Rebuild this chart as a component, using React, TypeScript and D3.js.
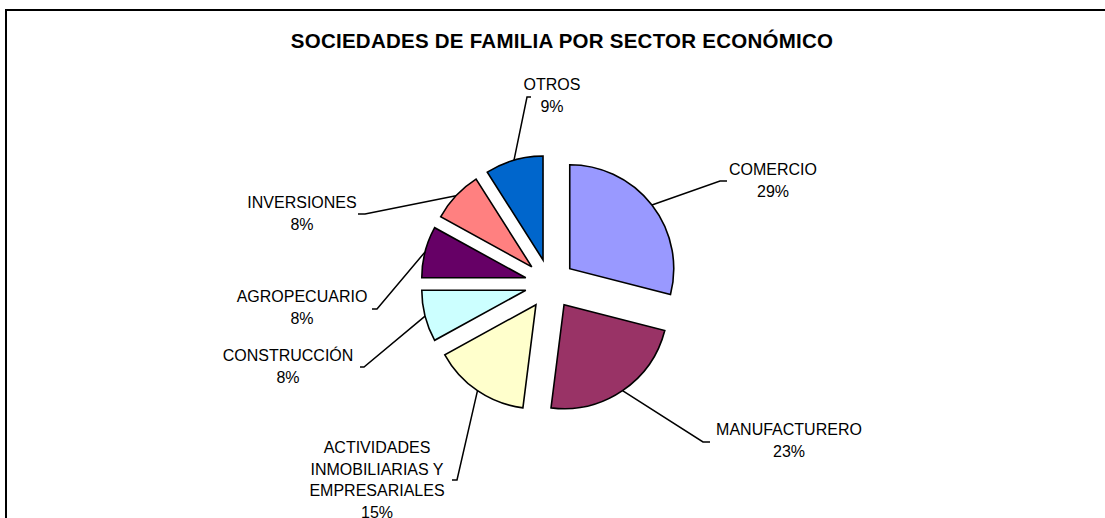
import React from 'react';
import * as d3 from 'd3';

const categories = [
  'COMERCIO',
  'MANUFACTURERO',
  'ACTIVIDADES INMOBILIARIAS Y EMPRESARIALES',
  'CONSTRUCCIÓN',
  'AGROPECUARIO',
  'INVERSIONES',
  'OTROS',
];
const shares = [29, 23, 15, 8, 8, 8, 9];
const sliceColors = ['#9999FF', '#993366', '#FFFFCC', '#CCFFFF', '#660066', '#FF8080', '#0066CC'];
const labelLines = [
  ['COMERCIO'],
  ['MANUFACTURERO'],
  ['ACTIVIDADES', 'INMOBILIARIAS Y', 'EMPRESARIALES'],
  ['CONSTRUCCIÓN'],
  ['AGROPECUARIO'],
  ['INVERSIONES'],
  ['OTROS'],
];
const title = 'SOCIEDADES DE FAMILIA POR SECTOR ECONÓMICO';

// layout: label anchor (centre x, first baseline) and leader knee (x, y, tick direction)
const labelAt = [
  [773, 175],
  [789, 435],
  [377, 453],
  [288, 361],
  [302, 302],
  [302, 208],
  [552, 90],
];
const kneeAt = [
  [720, 181, 7],
  [703, 442, 7],
  [457, 480, -5],
  [364, 367, -4],
  [377, 309, -5],
  [365, 214, -7],
  [527, 97, 4],
];

const W = 1105;
const H = 518;
const cx = 550;
const cy = 284;
const radius = 104;
const explode = 25;
const lineH = 21.5;
const font = "'Liberation Sans', Arial, sans-serif";

const App: React.FC = () => {
  const rows = categories.map((name, i) => ({ name, value: shares[i], i }));
  const pie = d3
    .pie<{ name: string; value: number; i: number }>()
    .sort(null)
    .value((d) => d.value)
    .startAngle(0)
    .endAngle(2 * Math.PI);
  const arcs = pie(rows);
  const arc = d3
    .arc<d3.PieArcDatum<{ name: string; value: number; i: number }>>()
    .innerRadius(0)
    .outerRadius(radius);
  const rim = d3
    .arc<d3.PieArcDatum<{ name: string; value: number; i: number }>>()
    .innerRadius(radius)
    .outerRadius(radius);

  return (
    <svg
      width={W}
      height={H}
      style={{ position: 'absolute', left: 0, top: 0, background: '#fff' }}
      fontFamily={font}
    >
      <rect x={6} y={10} width={W + 20} height={H + 20} fill="#fff" stroke="#000" strokeWidth={2} />
      <text
        x={562}
        y={48}
        textAnchor="middle"
        fontSize={20.5}
        fontWeight="bold"
        letterSpacing={0.25}
        fill="#000"
      >
        {title}
      </text>
      <g transform={`translate(${cx},${cy})`}>
        {arcs.map((a) => {
          const mid = (a.startAngle + a.endAngle) / 2;
          const dx = explode * Math.sin(mid);
          const dy = -explode * Math.cos(mid);
          return (
            <path
              key={a.data.name}
              d={arc(a) || ''}
              transform={`translate(${dx},${dy})`}
              fill={sliceColors[a.data.i]}
              stroke="#000"
              strokeWidth={1.6}
              strokeLinejoin="miter"
            />
          );
        })}
      </g>
      {arcs.map((a) => {
        const i = a.data.i;
        const mid = (a.startAngle + a.endAngle) / 2;
        const [rx, ry] = rim.centroid(a);
        const ex = cx + rx + explode * Math.sin(mid);
        const ey = cy + ry - explode * Math.cos(mid);
        const [kx, ky, t] = kneeAt[i];
        return (
          <path
            key={`l-${a.data.name}`}
            d={`M${ex},${ey}L${kx},${ky}L${kx + t},${ky}`}
            fill="none"
            stroke="#000"
            strokeWidth={1.5}
          />
        );
      })}
      {arcs.map((a) => {
        const i = a.data.i;
        const [lx, ly] = labelAt[i];
        const lines = [...labelLines[i], `${a.data.value}%`];
        return (
          <text key={`t-${a.data.name}`} x={lx} y={ly} textAnchor="middle" fontSize={16} fill="#000">
            {lines.map((s, k) => (
              <tspan key={k} x={lx} y={ly + k * lineH}>
                {s}
              </tspan>
            ))}
          </text>
        );
      })}
    </svg>
  );
};

export default App;
